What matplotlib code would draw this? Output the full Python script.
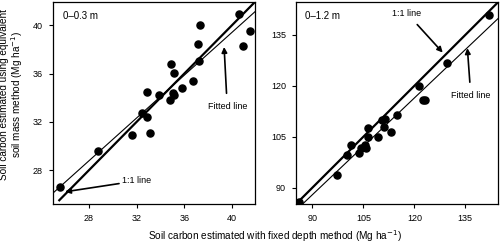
import matplotlib.pyplot as plt
import numpy as np

plt.rcParams['font.family'] = ['Liberation Sans', 'DejaVu Sans']

# 0-0.3 m data (fixed depth vs equivalent soil mass)
fd_03 = [25.56, 28.78, 31.64, 32.45, 32.87, 32.87, 33.10, 33.90, 34.81, 34.89, 35.12,
         35.06, 35.17, 35.82, 36.74, 37.24, 37.18, 37.33, 40.55, 40.95, 41.53]
esm_03 = [26.57, 29.60, 30.87, 32.74, 32.41, 34.43, 31.10, 34.20, 33.79, 36.77, 36.03,
          34.40, 34.18, 34.82, 35.38, 37.04, 38.47, 40.06, 40.97, 38.28, 39.49]

# 0-1.2 m data
fd_12 = [86.2, 97.35, 100.1, 101.3, 103.8, 104.4, 105.5, 105.8, 106.4, 106.5, 109.2,
         110.5, 111.4, 111.0, 113.1, 114.8, 121.5, 122.5, 123.2, 129.5, 142.1]
esm_12 = [85.8, 93.74, 99.5, 102.7, 100.3, 101.8, 102.5, 101.7, 107.5, 105.0, 105.0,
          109.95, 110.3, 108.0, 106.5, 111.4, 120.0, 115.8, 115.8, 126.8, 140.9]

# fitted lines (slope, intercept)
fit_03 = (0.886, 3.97)
fit_12 = (0.950, 2.42)

fig = plt.figure(figsize=(5, 2.44), dpi=100)
ax1 = fig.add_axes([0.105, 0.164, 0.4056, 0.8279])
ax2 = fig.add_axes([0.5914, 0.164, 0.4052, 0.8279])

# left panel
ax1.scatter(fd_03, esm_03, s=26, color='black', zorder=3)
x = np.array([25.5, 41.9])
ax1.plot(x, x, color='black', lw=1.6)
x = np.array([24.93, 41.96])
ax1.plot(x, fit_03[0] * x + fit_03[1], color='black', lw=0.8)
ax1.set_xlim(24.93, 41.96)
ax1.set_ylim(25.19, 41.93)
ax1.set_xticks([28, 32, 36, 40])
ax1.set_yticks([28, 32, 36, 40])
ax1.text(25.8, 40.75, '0\u20130.3 m', fontsize=7, va='center')
ax1.annotate('1:1 line', xy=(25.98, 26.2), xytext=(30.75, 27.1), fontsize=6.5,
             va='center', ha='left',
             arrowprops=dict(arrowstyle='-|>', lw=1.2, color='black', mutation_scale=8,
                             shrinkA=0, shrinkB=0))
ax1.annotate('Fitted line', xy=(39.34, 38.2), xytext=(39.6, 33.3), fontsize=6.5,
             va='center', ha='center',
             arrowprops=dict(arrowstyle='-|>', lw=1.2, color='black', mutation_scale=8,
                             shrinkA=4, shrinkB=0))

# right panel
ax2.scatter(fd_12, esm_12, s=26, color='black', zorder=3)
x = np.array([86.0, 144.3])
ax2.plot(x, x, color='black', lw=1.6)
x = np.array([87.35, 144.7])
ax2.plot(x, fit_12[0] * x + fit_12[1], color='black', lw=0.8)
ax2.set_xlim(85.1, 144.7)
ax2.set_ylim(85.2, 144.7)
ax2.set_xticks([90, 105, 120, 135])
ax2.set_yticks([90, 105, 120, 135])
ax2.text(87.9, 140.6, '0\u20131.2 m', fontsize=7, va='center')
ax2.annotate('1:1 line', xy=(128.35, 129.8), xytext=(117.8, 141.4), fontsize=6.5,
             va='center', ha='center',
             arrowprops=dict(arrowstyle='-|>', lw=1.2, color='black', mutation_scale=8,
                             shrinkA=4, shrinkB=0))
ax2.annotate('Fitted line', xy=(135.6, 131.1), xytext=(136.6, 117.3), fontsize=6.5,
             va='center', ha='center',
             arrowprops=dict(arrowstyle='-|>', lw=1.2, color='black', mutation_scale=8,
                             shrinkA=4, shrinkB=0))

for ax in (ax1, ax2):
    ax.tick_params(direction='out', length=3, width=0.8, labelsize=6.5, pad=4)
    for sp in ax.spines.values():
        sp.set_linewidth(0.9)

fig.text(0.024, 1 - 94 / 244, 'Soil carbon estimated using equivalent\nsoil mass method (Mg ha$^{-1}$)',
         rotation=90, ha='center', va='center', multialignment='center', fontsize=7.2,
         linespacing=1.1)
fig.text(0.55, 1 - 236 / 244, 'Soil carbon estimated with fixed depth method (Mg ha$^{-1}$)',
         ha='center', va='center', fontsize=7.2)

plt.savefig('out.png', dpi=100)
